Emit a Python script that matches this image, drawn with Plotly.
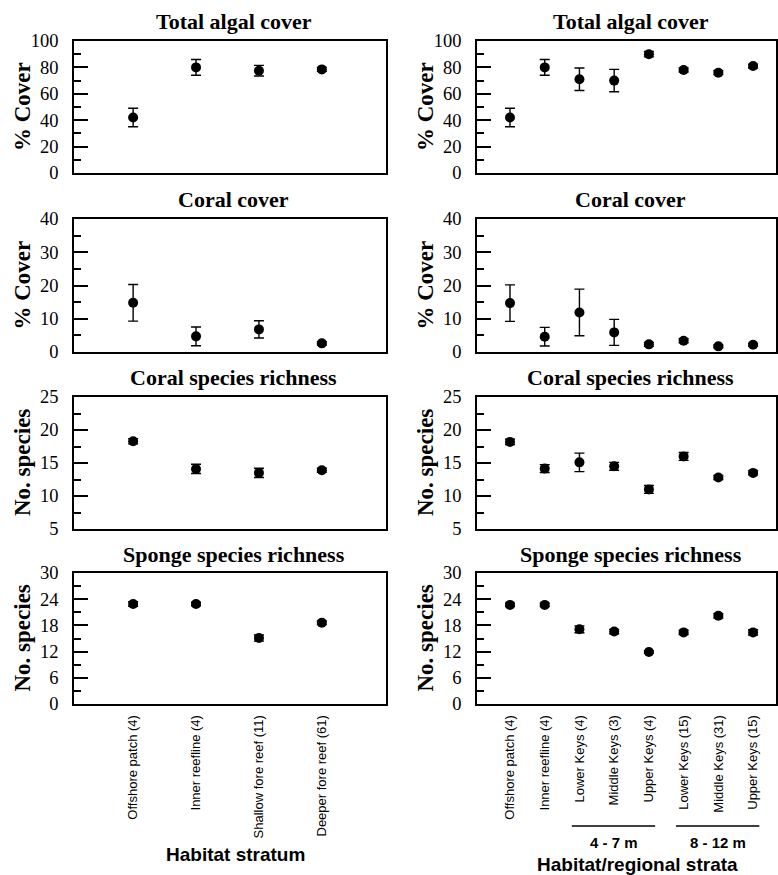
import plotly.graph_objects as go

# ---------------- data ----------------
left_categories = ["Offshore patch (4)", "Inner reefline (4)",
                   "Shallow fore reef (11)", "Deeper fore reef (61)"]
right_categories = ["Offshore patch (4)", "Inner reefline (4)", "Lower Keys (4)",
                    "Middle Keys (3)", "Upper Keys (4)", "Lower Keys (15)",
                    "Middle Keys (31)", "Upper Keys (15)"]

algal_left = [42, 80, 77.5, 78.5]
algal_left_err = [7, 6, 4, 1.5]
algal_right = [42, 80, 71, 70, 90, 78, 76, 81]
algal_right_err = [7, 6, 8.5, 8.5, 2, 1.5, 1.5, 1.5]

coral_left = [14.8, 4.7, 6.8, 2.6]
coral_left_err = [5.5, 2.8, 2.6, 0.5]
coral_right = [14.7, 4.6, 11.9, 5.9, 2.3, 3.4, 1.7, 2.2]
coral_right_err = [5.5, 2.8, 7.0, 3.9, 0.6, 0.6, 0.4, 0.4]

crich_left = [18.3, 14.1, 13.5, 13.9]
crich_left_err = [0.4, 0.7, 0.7, 0.3]
crich_right = [18.2, 14.15, 15.1, 14.5, 11.0, 16.0, 12.8, 13.5]
crich_right_err = [0.4, 0.6, 1.4, 0.6, 0.6, 0.6, 0.3, 0.3]

sponge_left = [22.9, 22.9, 15.1, 18.6]
sponge_left_err = [0.5, 0.4, 0.7, 0.4]
sponge_right = [22.7, 22.7, 17.1, 16.6, 11.9, 16.4, 20.2, 16.4]
sponge_right_err = [0.4, 0.4, 0.8, 0.5, 0.3, 0.5, 0.5, 0.6]

panel_titles = ["Total algal cover", "Coral cover", "Coral species richness",
                "Sponge species richness"]
y_titles = ["% Cover", "% Cover", "No. species", "No. species"]
y_ranges = [[0, 100], [0, 40], [5, 25], [0, 30]]
y_dticks = [20, 10, 5, 6]
y_minor = [10, 5, 2.5, 3]
depth_groups = ["4 - 7 m", "8 - 12 m"]

left_series = [(algal_left, algal_left_err), (coral_left, coral_left_err),
               (crich_left, crich_left_err), (sponge_left, sponge_left_err)]
right_series = [(algal_right, algal_right_err), (coral_right, coral_right_err),
                (crich_right, crich_right_err), (sponge_right, sponge_right_err)]

# ---------------- layout helpers ----------------
W, H = 778, 875
def fx(p):
    return p / W
def fy(p):
    return 1 - p / H

col_px = [(74, 386), (477, 776)]
row_px = [(41, 173), (219, 352), (397, 529), (573, 704)]
x_ranges = [[-0.94, 4.02], [-0.95, 7.66]]

SERIF = "Liberation Serif"
SANS = "Liberation Sans"

fig = go.Figure()
layout = dict(width=W, height=H, autosize=False,
              margin=dict(l=0, r=0, t=0, b=0),
              paper_bgcolor="white", plot_bgcolor="white",
              showlegend=False, annotations=[], shapes=[])

n = 0
for r in range(4):
    for c in range(2):
        n += 1
        cats = left_categories if c == 0 else right_categories
        vals, errs = (left_series if c == 0 else right_series)[r]
        fig.add_trace(go.Scatter(
            x=cats, y=vals, mode="markers",
            marker=dict(color="black", size=10, symbol="circle"),
            error_y=dict(type="data", array=errs, visible=True,
                         color="black", thickness=1.4, width=5),
            xaxis=f"x{n}", yaxis=f"y{n}", hoverinfo="x+y"))
        x0, x1 = col_px[c]
        y0, y1 = row_px[r]
        layout[f"xaxis{n}"] = dict(
            domain=[fx(x0), fx(x1)], anchor=f"y{n}", type="category",
            categoryorder="array", categoryarray=cats,
            range=x_ranges[c], showline=True, linecolor="black", linewidth=1.8,
            mirror=True, ticks="", showgrid=False, zeroline=False,
            showticklabels=(r == 3), tickangle=-90,
            tickfont=dict(family=SANS, size=13, color="black"),
            ticklabelstandoff=4, automargin=False)
        layout[f"yaxis{n}"] = dict(
            domain=[fy(y1), fy(y0)], anchor=f"x{n}",
            range=y_ranges[r], tick0=y_ranges[r][0], dtick=y_dticks[r],
            ticks="inside", ticklen=14, tickwidth=1.6, tickcolor="black",
            minor=dict(ticks="inside", ticklen=7, tickwidth=1.6,
                       tickcolor="black", dtick=y_minor[r], tick0=y_ranges[r][0]),
            showline=True, linecolor="black", linewidth=1.8, mirror=True,
            showgrid=False, zeroline=False,
            tickfont=dict(family=SERIF, size=18.5, color="black"),
            ticklabelstandoff=10, automargin=False)
        # panel title
        layout["annotations"].append(dict(
            text=f"<b>{panel_titles[r]}</b>", xref="paper", yref="paper",
            x=fx((x0 + x1) / 2 + 4), y=fy(y0 - 19), xanchor="center", yanchor="middle",
            showarrow=False, font=dict(family=SERIF, size=22, color="black")))
        # y title
        ytx = 22 if c == 0 else 425
        layout["annotations"].append(dict(
            text=f"<b>{y_titles[r]}</b>", xref="paper", yref="paper",
            x=fx(ytx), y=fy((y0 + y1) / 2), xanchor="center", yanchor="middle",
            textangle=-90, showarrow=False,
            font=dict(family=SERIF, size=23, color="black")))

# depth group lines and labels (right bottom panel, axis x8)
group_spans = [(right_categories[2], right_categories[4]),
               (right_categories[5], right_categories[7])]
for (a, b), label in zip(group_spans, depth_groups):
    ia, ib = right_categories.index(a), right_categories.index(b)
    layout["shapes"].append(dict(
        type="line", xref="x8", yref="paper",
        x0=ia - 0.22, x1=ib + 0.18, y0=fy(826), y1=fy(826),
        line=dict(color="black", width=1.3)))
    layout["annotations"].append(dict(
        text=f"<b>{label}</b>", xref="x8", yref="paper",
        x=(ia + ib) / 2, y=fy(842), xanchor="center", yanchor="middle",
        showarrow=False, font=dict(family=SANS, size=15, color="black")))

layout["annotations"].append(dict(
    text="<b>Habitat stratum</b>", xref="paper", yref="paper",
    x=fx(235), y=fy(854), xanchor="center", yanchor="middle", showarrow=False,
    font=dict(family=SANS, size=19, color="black")))
layout["annotations"].append(dict(
    text="<b>Habitat/regional strata</b>", xref="paper", yref="paper",
    x=fx(637), y=fy(864), xanchor="center", yanchor="middle", showarrow=False,
    font=dict(family=SANS, size=19, color="black")))

fig.update_layout(**layout)
fig.write_html("out.html", config={"displayModeBar": False},
               post_script="document.body.style.margin='0';document.body.style.overflow='hidden';")
